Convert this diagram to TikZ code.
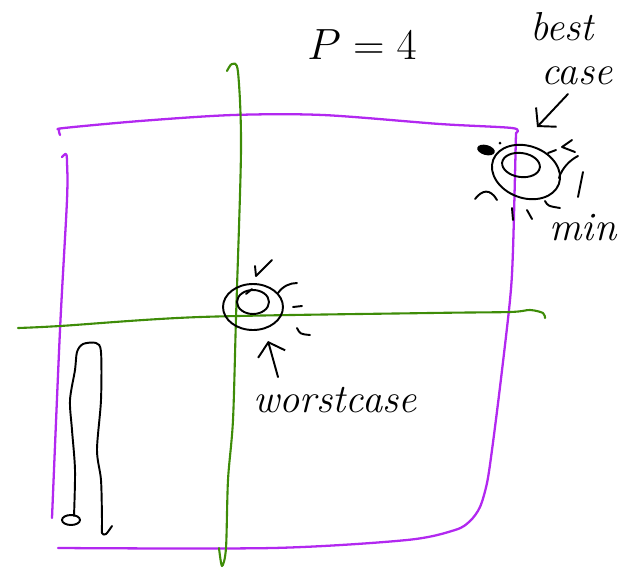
\documentclass[tikz,border=0pt]{standalone}
\usetikzlibrary{arrows.meta}
\definecolor{penpurple}{RGB}{178,40,240}
\definecolor{pengreen}{RGB}{62,140,8}
\begin{document}
\begin{tikzpicture}[x=0.02cm, y=-0.02cm, line cap=round, line join=round,
	purpleline/.style={draw=penpurple, line width=1.3pt},
	greenline/.style={draw=pengreen, line width=1.2pt},
	ink/.style={draw=black, line width=1.1pt},
	barb/.style={ink, -{Straight Barb[length=7pt, width=16pt]}},
	hand/.style={font=\fontsize{23}{27}\selectfont\itshape, inner sep=0pt}]
	\useasboundingbox (0,0) rectangle (623,569);
	% Box and axes:
	\draw[purpleline] plot[smooth, tension=0.5] coordinates {(60,135) (59,130) (64,128) (140,121) (233,115) (323,115) (440,124) (512,128) (516,133)};
	\draw[purpleline] plot[smooth, tension=0.5] coordinates {(516,133) (513,250) (510,300) (500,387) (492,450) (487,483) (480,507) (470,521) (455,530) (407,540) (273,548) (58,548)};
	\draw[purpleline] plot[smooth, tension=0.5] coordinates {(62,157) (66,154) (67,162) (67,200) (60,330) (52,518)};
	\draw[greenline] plot[smooth, tension=0.5] coordinates {(227,71) (232,64) (238,72) (241,150) (236,318) (233,420) (228,480) (226,548) (222,566) (219,548)};
	\draw[greenline] plot[smooth, tension=0.5] coordinates {(18,328) (60,326) (200,317) (430,313) (510,312) (530,310) (543,313) (545,318)};
	% Worst case:
	\draw[ink] (253,307) ellipse [x radius=30, y radius=23];
	\draw[ink] (253,302) ellipse [x radius=16, y radius=12];
	\draw[ink] (246,294) -- (252,289);
	\draw[ink] (255,266) -- (256,276) -- (272,260);
	\draw[ink] (278,293) .. controls (283,286) and (290,283) .. (297,283);
	\draw[ink] (293,307) -- (302,306);
	\draw[ink] (297,328) .. controls (300,334) .. (310,335);
	\coordinate (worsttail) at (278,377);
	\coordinate (worsttip) at (268,341);
	\draw[barb] (worsttail) -- (worsttip);
	\node[hand] (worst) at (335,400) {worstcase};
	% Best case:
	\draw[ink, rotate around={-20:(526,172)}] (526,172) ellipse [x radius=35, y radius=26];
	\draw[ink, rotate around={-8:(521,165)}] (521,165) ellipse [x radius=19, y radius=12];
	\fill[rotate around={-15:(486,150)}] (486,150) ellipse [x radius=9, y radius=5];
	\fill (500,143) circle [radius=1.5];
	\draw[ink] (548,153) -- (556,150);
	\draw[ink] (572,140) -- (562,147) -- (575,152);
	\draw[ink] (559,178) .. controls (562,168) and (570,160) .. (578,156);
	\draw[ink] (583,172) -- (578,197);
	\draw[ink] (545,201) .. controls (548,206) .. (560,208);
	\draw[ink] (475,199) .. controls (482,190) and (490,188) .. (497,200);
	\draw[ink] (512,208) -- (513,220);
	\draw[ink] (527,210) -- (532,219);
	\coordinate (besttail) at (568,94);
	\coordinate (besttip) at (537,127);
	\draw[barb] (besttail) -- (besttip);
	\node[hand] (best) at (562,27) {best};
	\node[hand] (case) at (577,76) {case};
	\node[hand] (min) at (583,228) {min};
	% Title:
	\node[hand, font=\fontsize{26}{30}\selectfont] (title) at (362,45) {$P = 4$};
	% Squiggle:
	\draw[ink] (71,520) ellipse [x radius=9, y radius=5];
	\draw[ink] plot[smooth, tension=0.5] coordinates {(74,516) (75,470) (72,430) (70,400) (75,370) (77,352) (83,344) (96,343) (101,352) (101,400) (97,450) (101,480) (102,520) (102,533) (106,534) (112,526)};
\end{tikzpicture}
\end{document}
